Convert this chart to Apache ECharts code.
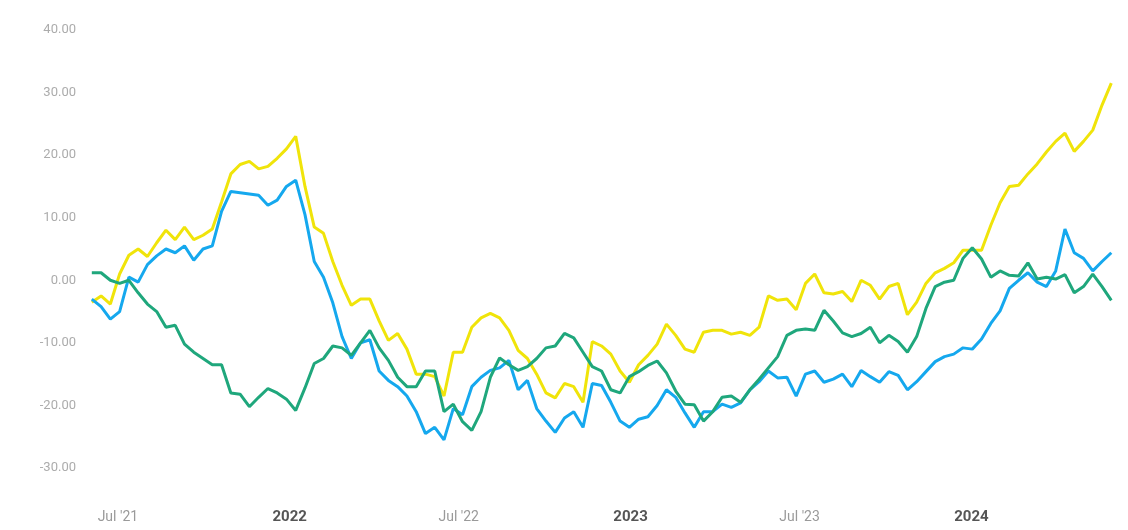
<!DOCTYPE html>
<html>
<head>
<meta charset="utf-8">
<style>
  html, body { margin: 0; padding: 0; background: #ffffff; }
  #chart { width: 1128px; height: 530px; }
</style>
<script src="https://cdn.jsdelivr.net/npm/echarts@6/dist/echarts.min.js"></script>
</head>
<body>
<div id="chart"></div>
<script>
// Sampling grid: roughly every 9.925 days from early June 2021
const sampleStart = new Date(2021, 5, 3, 2).getTime();
const sampleStepDays = 9.925;

// X-axis tick labels
const tickDates = ['2021-07-01', '2022-01-01', '2022-07-01', '2023-01-01', '2023-07-01', '2024-01-01'];
const tickLabels = ["Jul '21", '2022', "Jul '22", '2023', "Jul '23", '2024'];
const tickIsYear = [false, true, false, true, false, true];

// Y-axis
const yMin = -30, yMax = 40, yStep = 10;

// Series values
const yellowValues = [
  -3.5, -2.5, -3.8, 1.0, 4.0, 5.0, 3.8, 6.0, 8.0, 6.5,
  8.5, 6.5, 7.2, 8.2, 12.5, 17, 18.5, 19, 17.8, 18.2,
  19.5, 21, 23, 15, 8.5, 7.5, 3, -0.8, -4, -3,
  -3, -6.5, -9.6, -8.5, -11, -15, -15, -15.4, -18.5, -11.5,
  -11.5, -7.5, -6, -5.3, -6, -8, -11.2, -12.5, -15, -18,
  -18.8, -16.5, -17, -19.5, -9.8, -10.5, -11.8, -14.5, -16.3, -13.5,
  -12, -10.2, -7, -8.8, -11, -11.5, -8.3, -8, -8, -8.6,
  -8.3, -8.8, -7.5, -2.5, -3.2, -3, -4.7, -0.5, 1, -2,
  -2.2, -1.8, -3.4, 0, -0.8, -3, -1, -0.5, -5.5, -3.5,
  -0.5, 1.2, 1.9, 2.8, 4.8, 4.8, 4.8, 8.8, 12.4, 15,
  15.2, 17, 18.6, 20.5, 22.2, 23.5, 20.6, 22.2, 24, 28,
  31.5
];
const blueValues = [
  -3, -4.2, -6.2, -5, 0.5, -0.3, 2.5, 3.9, 5, 4.4,
  5.5, 3.2, 5, 5.5, 11, 14.2, 14, 13.8, 13.6, 12,
  12.8, 15, 16, 10.5, 3, 0.5, -3.6, -9, -12.5, -10,
  -9.5, -14.5, -16, -17, -18.5, -21, -24.5, -23.5, -25.5, -20.5,
  -21.5, -17, -15.5, -14.4, -14, -12.8, -17.5, -16, -20.5, -22.5,
  -24.3, -22, -21, -23.5, -16.5, -16.8, -19.5, -22.5, -23.5, -22.2,
  -21.8, -20, -17.5, -18.7, -21.2, -23.5, -21, -21, -19.8, -20.3,
  -19.6, -17.5, -16.2, -14.5, -15.6, -15.5, -18.5, -15, -14.5, -16.3,
  -15.8, -15, -17, -14.4, -15.4, -16.3, -14.6, -15.2, -17.5, -16.2,
  -14.6, -13, -12.2, -11.8, -10.8, -11, -9.4, -6.9, -4.9, -1.3,
  0, 1.2, -0.3, -1, 1.5, 8.2, 4.4, 3.5, 1.5, 3,
  4.4
];
const greenValues = [
  1.2, 1.2, 0, -0.5, 0, -2, -3.8, -5, -7.5, -7.2,
  -10.2, -11.5, -12.5, -13.5, -13.5, -18, -18.2, -20.2, -18.7, -17.3,
  -18, -19, -20.8, -17.2, -13.3, -12.5, -10.5, -10.8, -12, -10,
  -8, -10.8, -12.8, -15.5, -17, -17, -14.5, -14.5, -21, -19.8,
  -22.6, -24, -21, -15.5, -12.4, -13.5, -14.4, -13.8, -12.5, -10.8,
  -10.5, -8.5, -9.2, -11.5, -13.8, -14.5, -17.5, -18, -15.4, -14.6,
  -13.6, -12.9, -14.8, -17.7, -19.8, -19.9, -22.5, -21, -18.7, -18.5,
  -19.5, -17.5, -15.8, -14, -12.2, -8.8, -8, -7.8, -8, -4.8,
  -6.5, -8.4, -9, -8.5, -7.5, -10, -8.8, -9.8, -11.5, -9,
  -4.5, -1, -0.3, 0, 3.5, 5.2, 3.4, 0.5, 1.5, 0.8,
  0.7, 2.8, 0.2, 0.5, 0.2, 0.9, -2, -1, 1, -1,
  -3.2
];

const DAY = 86400000;
function toPairs(values) {
  return values.map((v, i) => [sampleStart + i * sampleStepDays * DAY, v]);
}
function parseDate(s) {
  const p = s.split('-').map(Number);
  return new Date(p[0], p[1] - 1, p[2]).getTime();
}
const tickTimes = tickDates.map(parseDate);

const chart = echarts.init(document.getElementById('chart'), null, { renderer: 'canvas' });

const option = {
  animation: false,
  backgroundColor: '#ffffff',
  grid: { left: 88, right: 10, top: 30, bottom: 62, containLabel: false },
  xAxis: {
    type: 'value',
    min: new Date(2021, 4, 30).getTime(),
    max: new Date(2024, 5, 6).getTime(),
    axisLine: { show: false },
    axisTick: { show: false },
    splitLine: { show: false },
    axisLabel: {
      customValues: tickTimes,
      margin: 42,
      showMinLabel: true,
      showMaxLabel: true,
      hideOverlap: false,
      formatter: function (value) {
        let idx = -1;
        for (let i = 0; i < tickTimes.length; i++) {
          if (Math.abs(tickTimes[i] - value) < DAY) { idx = i; }
        }
        if (idx < 0) return '';
        return tickIsYear[idx] ? '{y|' + tickLabels[idx] + '}' : '{m|' + tickLabels[idx] + '}';
      },
      rich: {
        y: { fontFamily: 'Roboto, Arial, sans-serif', fontSize: 15, fontWeight: 'bold', color: '#555555' },
        m: { fontFamily: 'Roboto, Arial, sans-serif', fontSize: 14, color: '#9a9a9a' }
      }
    }
  },
  yAxis: {
    type: 'value',
    min: yMin,
    max: yMax,
    interval: yStep,
    axisLine: { show: false },
    axisTick: { show: false },
    splitLine: { show: false },
    axisLabel: {
      margin: 12,
      fontFamily: 'Roboto, Arial, sans-serif',
      fontSize: 13,
      color: '#acacac',
      formatter: function (v) { return v.toFixed(2); }
    }
  },
  series: [
    {
      name: 'Yellow', type: 'line', data: toPairs(yellowValues),
      showSymbol: false, symbol: 'none',
      lineStyle: { color: '#f0e40a', width: 3 }, z: 2
    },
    {
      name: 'Blue', type: 'line', data: toPairs(blueValues),
      showSymbol: false, symbol: 'none',
      lineStyle: { color: '#15a8ee', width: 3 }, z: 3
    },
    {
      name: 'Green', type: 'line', data: toPairs(greenValues),
      showSymbol: false, symbol: 'none',
      lineStyle: { color: '#1fa77c', width: 3 }, z: 4
    }
  ]
};
chart.setOption(option);
</script>
</body>
</html>
